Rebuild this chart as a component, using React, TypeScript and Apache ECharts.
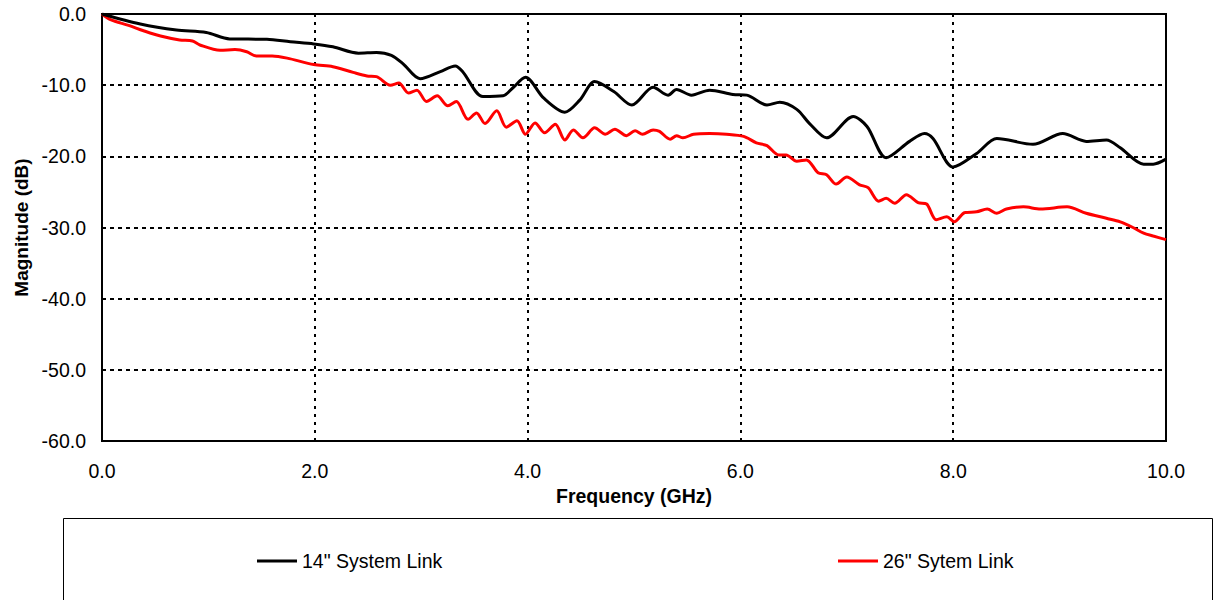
import React, { useEffect, useRef } from "react";
import * as echarts from "echarts";

const freq14 = [0, 0.36, 0.7, 0.98, 1.2, 1.55, 1.77, 1.99, 2.17, 2.41, 2.58, 2.72, 2.83, 2.99, 3.18, 3.32, 3.39, 3.58, 3.77, 3.86, 3.98, 4.15, 4.35, 4.49, 4.63, 4.81, 4.98, 5.18, 5.32, 5.4, 5.54, 5.71, 5.93, 6.06, 6.25, 6.37, 6.53, 6.65, 6.81, 7.06, 7.19, 7.37, 7.59, 7.73, 7.81, 8.0, 8.22, 8.41, 8.75, 9.03, 9.25, 9.44, 9.57, 9.79, 9.88, 10.0];
const mag14 = [0, -1.4, -2.25, -2.6, -3.5, -3.56, -3.9, -4.2, -4.6, -5.5, -5.4, -5.8, -7.0, -9.1, -8.1, -7.3, -8.1, -11.6, -11.5, -10.4, -8.9, -11.8, -13.8, -12.1, -9.5, -10.9, -12.8, -10.3, -11.4, -10.6, -11.4, -10.7, -11.3, -11.4, -12.8, -12.4, -13.4, -15.4, -17.4, -14.4, -15.8, -20.2, -17.9, -16.8, -17.5, -21.5, -19.6, -17.5, -18.3, -16.8, -17.9, -17.7, -18.8, -21.1, -21.1, -20.4];

const freq26 = [0, 0.08, 0.25, 0.39, 0.55, 0.73, 0.85, 0.92, 1.11, 1.25, 1.36, 1.45, 1.6, 1.74, 1.99, 2.17, 2.36, 2.49, 2.58, 2.71, 2.79, 2.88, 2.96, 3.05, 3.15, 3.25, 3.33, 3.44, 3.52, 3.6, 3.71, 3.8, 3.9, 3.98, 4.07, 4.16, 4.26, 4.35, 4.43, 4.52, 4.63, 4.73, 4.82, 4.93, 5.01, 5.08, 5.18, 5.24, 5.34, 5.4, 5.46, 5.56, 5.71, 5.87, 6.03, 6.15, 6.25, 6.36, 6.43, 6.53, 6.62, 6.73, 6.81, 6.9, 7.0, 7.12, 7.2, 7.3, 7.37, 7.45, 7.56, 7.67, 7.75, 7.84, 7.94, 8.01, 8.11, 8.22, 8.32, 8.41, 8.5, 8.66, 8.82, 9.07, 9.25, 9.44, 9.57, 9.69, 9.79, 9.88, 10.0];
const mag26 = [0, -0.8, -1.6, -2.35, -3.1, -3.65, -3.8, -4.35, -5.1, -5.0, -5.3, -5.9, -5.9, -6.2, -7.1, -7.4, -8.2, -8.7, -8.8, -10.0, -9.7, -11.1, -10.7, -12.3, -11.5, -12.9, -12.3, -14.8, -13.9, -15.4, -13.6, -15.9, -15.0, -16.9, -15.3, -16.7, -15.5, -17.7, -16.3, -17.4, -16.0, -16.9, -16.2, -17.1, -16.4, -16.9, -16.3, -16.5, -17.6, -17.1, -17.4, -16.9, -16.8, -16.9, -17.2, -18.1, -18.5, -19.8, -19.8, -20.7, -20.5, -22.3, -22.6, -23.9, -22.9, -24.0, -24.4, -26.3, -25.9, -26.6, -25.4, -26.5, -26.7, -28.9, -28.5, -29.2, -27.9, -27.8, -27.4, -28.0, -27.4, -27.1, -27.4, -27.1, -28.0, -28.7, -29.2, -30.0, -30.8, -31.2, -31.7];

const seriesNames = ['14" System Link', '26" Sytem Link'];
const xTicks = { min: 0, max: 10, interval: 2 };
const yTicks = { min: -60, max: 0, interval: 10 };

const FONT = "Liberation Sans, Arial, sans-serif";
const FS = 19.5;

export default function App() {
  const ref = useRef<HTMLDivElement>(null);
  useEffect(() => {
    if (!ref.current) return;
    const chart = echarts.init(ref.current, null, { renderer: "svg" });
    const pair = (xs: number[], ys: number[]) => xs.map((x, i) => [x, ys[i]]);
    chart.setOption({
      animation: false,
      textStyle: { fontFamily: FONT },
      grid: {
        left: 102,
        right: 47,
        top: 14,
        bottom: 159,
        show: true,
        borderColor: "#000",
        borderWidth: 2,
        backgroundColor: "transparent",
      },
      xAxis: {
        type: "value",
        min: xTicks.min,
        max: xTicks.max,
        interval: xTicks.interval,
        name: "Frequency (GHz)",
        nameLocation: "middle",
        nameGap: 45,
        nameTextStyle: { fontSize: FS, fontWeight: "bold", color: "#000", fontFamily: FONT },
        axisLine: { show: true, lineStyle: { color: "#000", width: 2 } },
        axisTick: { show: false },
        axisLabel: {
          color: "#000",
          fontSize: FS,
          margin: 20,
          fontFamily: FONT,
          formatter: (v: number) => v.toFixed(1),
        },
        splitLine: { show: true, lineStyle: { color: "#000", type: [3, 5], width: 2 } },
      },
      yAxis: {
        type: "value",
        min: yTicks.min,
        max: yTicks.max,
        interval: yTicks.interval,
        name: "Magnitude (dB)",
        nameLocation: "middle",
        nameGap: 70,
        nameTextStyle: { fontSize: 19, fontWeight: "bold", color: "#000", fontFamily: FONT },
        axisLine: { show: true, lineStyle: { color: "#000", width: 2 } },
        axisTick: { show: false },
        axisLabel: {
          color: "#000",
          fontSize: FS,
          margin: 16,
          fontFamily: FONT,
          formatter: (v: number) => v.toFixed(1),
        },
        splitLine: { show: true, lineStyle: { color: "#000", type: [4, 4], width: 2 } },
      },
      legend: [
        {
          data: [seriesNames[0]],
          left: 252,
          top: 546,
          itemWidth: 40,
          itemHeight: 3,
          icon: "rect",
          textStyle: { fontSize: FS, color: "#000", fontFamily: FONT },
        },
        {
          data: [seriesNames[1]],
          left: 833,
          top: 546,
          itemWidth: 40,
          itemHeight: 3,
          icon: "rect",
          textStyle: { fontSize: FS, color: "#000", fontFamily: FONT },
        },
      ],
      graphic: [
        {
          type: "rect",
          left: 61,
          top: 516,
          shape: { width: 1149, height: 100 },
          style: { fill: "none", stroke: "#000", lineWidth: 1 },
          silent: true,
        },
      ],
      series: [
        {
          name: seriesNames[0],
          type: "line",
          data: pair(freq14, mag14),
          showSymbol: false,
          symbol: "none",
          smooth: 0.3,
          lineStyle: { color: "#000", width: 3 },
          itemStyle: { color: "#000" },
          z: 3,
        },
        {
          name: seriesNames[1],
          type: "line",
          data: pair(freq26, mag26),
          showSymbol: false,
          symbol: "none",
          smooth: 0.3,
          lineStyle: { color: "#ff0000", width: 3 },
          itemStyle: { color: "#ff0000" },
          z: 2,
        },
      ],
    });
    return () => chart.dispose();
  }, []);
  return <div ref={ref} style={{ width: 1213, height: 600, position: "absolute", left: 0, top: 0 }} />;
}
